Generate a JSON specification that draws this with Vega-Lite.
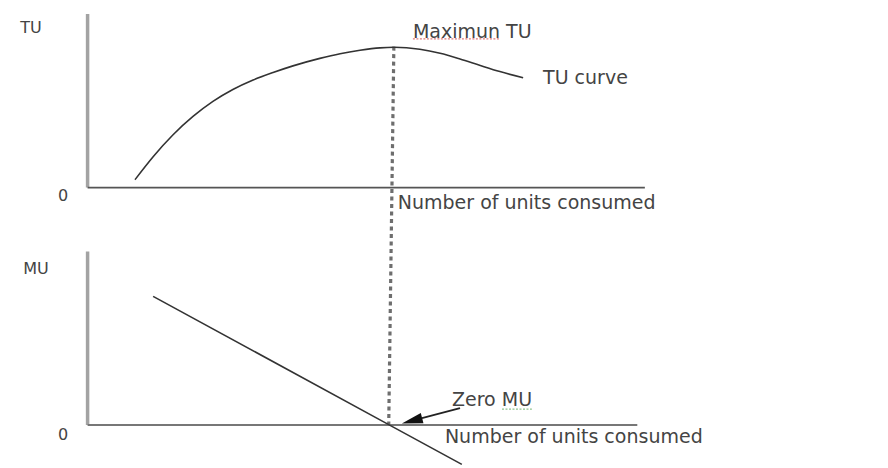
{
  "$schema": "https://vega.github.io/schema/vega-lite/v6.json",
  "width": 888,
  "height": 468,
  "autosize": {"type": "fit", "contains": "padding"},
  "padding": 0,
  "background": "white",
  "config": {"view": {"stroke": null}},
  "datasets": {
    "tu_curve": [
      {"units": 1.57, "tu": 0.56},
      {"units": 2.17, "tu": 2.18},
      {"units": 2.83, "tu": 3.73},
      {"units": 3.49, "tu": 5.02},
      {"units": 4.15, "tu": 6.08},
      {"units": 4.81, "tu": 6.92},
      {"units": 5.48, "tu": 7.59},
      {"units": 6.14, "tu": 8.12},
      {"units": 6.8, "tu": 8.59},
      {"units": 7.69, "tu": 9.12},
      {"units": 8.36, "tu": 9.45},
      {"units": 9.02, "tu": 9.69},
      {"units": 9.68, "tu": 9.86},
      {"units": 10.15, "tu": 9.9},
      {"units": 11.0, "tu": 9.76},
      {"units": 11.67, "tu": 9.48},
      {"units": 12.33, "tu": 9.08},
      {"units": 13.0, "tu": 8.62},
      {"units": 13.65, "tu": 8.19},
      {"units": 14.42, "tu": 7.75}
    ],
    "tu_rules": [
      {"part": "y axis", "units": 0, "units_end": 0, "tu": 0, "tu_end": 12.25},
      {"part": "x axis", "units": 0, "units_end": 18.45, "tu": 0, "tu_end": 0},
      {"part": "max line", "units": 10.14, "units_end": 9.97, "tu": 9.95, "tu_end": -16.76},
      {"part": "spelling", "units": 10.77, "units_end": 13.65, "tu": 10.49, "tu_end": 10.49}
    ],
    "tu_text": [
      {"role": "axis", "label": "TU", "units": -1.874, "tu": 11.27},
      {"role": "axis", "label": "0", "units": -0.815, "tu": -0.56},
      {"role": "note", "label": "Maximun TU", "units": 10.77, "tu": 10.99},
      {"role": "note", "label": "TU curve", "units": 15.08, "tu": 7.75},
      {"role": "note", "label": "Number of units consumed", "units": 10.27, "tu": -1.06}
    ],
    "mu_line": [
      {"units": 2.17, "mu": 10.0},
      {"units": 10.0, "mu": 0.0},
      {"units": 12.39, "mu": -3.05}
    ],
    "mu_rules": [
      {"part": "y axis", "units": 0, "units_end": 0, "mu": 0, "mu_end": 13.49},
      {"part": "x axis", "units": 0, "units_end": 18.2, "mu": 0, "mu_end": 0},
      {"part": "arrow", "units": 12.33, "units_end": 11.07, "mu": 1.32, "mu_end": 0.54},
      {"part": "spelling", "units": 13.72, "units_end": 14.71, "mu": 1.24, "mu_end": 1.24}
    ],
    "mu_arrowhead": [
      {"units": 10.74, "mu": 0.33}
    ],
    "mu_text": [
      {"role": "axis", "label": "MU", "units": -1.71, "mu": 12.09},
      {"role": "axis", "label": "0", "units": -0.815, "mu": -0.78},
      {"role": "note", "label": "Zero MU", "units": 12.065, "mu": 1.94},
      {"role": "note", "label": "Number of units consumed", "units": 11.83, "mu": -0.93}
    ]
  },
  "layer": [
    {
      "layer": [
        {
          "data": {"name": "tu_rules"},
          "transform": [{"filter": "datum.part == 'y axis'"}],
          "mark": {"type": "rule", "color": "#a3a3a3", "strokeWidth": 3.5},
          "encoding": {
            "x": {"field": "units", "type": "quantitative", "scale": {"domain": [-2.9, 26.5], "nice": false, "zero": false}, "axis": null},
            "x2": {"field": "units_end"},
            "y": {"field": "tu", "type": "quantitative", "scale": {"domain": [-19.72, 13.24], "nice": false, "zero": false}, "axis": null},
            "y2": {"field": "tu_end"}
          }
        },
        {
          "data": {"name": "tu_rules"},
          "transform": [{"filter": "datum.part == 'x axis'"}],
          "mark": {"type": "rule", "color": "#555555", "strokeWidth": 1.8},
          "encoding": {
            "x": {"field": "units", "type": "quantitative", "scale": {"domain": [-2.9, 26.5], "nice": false, "zero": false}, "axis": null},
            "x2": {"field": "units_end"},
            "y": {"field": "tu", "type": "quantitative", "scale": {"domain": [-19.72, 13.24], "nice": false, "zero": false}, "axis": null},
            "y2": {"field": "tu_end"}
          }
        },
        {
          "data": {"name": "tu_rules"},
          "transform": [{"filter": "datum.part == 'max line'"}],
          "mark": {"type": "rule", "color": "#6e6e6e", "strokeWidth": 3.2, "strokeDash": [4, 3.5]},
          "encoding": {
            "x": {"field": "units", "type": "quantitative", "scale": {"domain": [-2.9, 26.5], "nice": false, "zero": false}, "axis": null},
            "x2": {"field": "units_end"},
            "y": {"field": "tu", "type": "quantitative", "scale": {"domain": [-19.72, 13.24], "nice": false, "zero": false}, "axis": null},
            "y2": {"field": "tu_end"}
          }
        },
        {
          "data": {"name": "tu_rules"},
          "transform": [{"filter": "datum.part == 'spelling'"}],
          "mark": {"type": "rule", "color": "#e07a7a", "strokeWidth": 1.3, "strokeDash": [2, 1.5]},
          "encoding": {
            "x": {"field": "units", "type": "quantitative", "scale": {"domain": [-2.9, 26.5], "nice": false, "zero": false}, "axis": null},
            "x2": {"field": "units_end"},
            "y": {"field": "tu", "type": "quantitative", "scale": {"domain": [-19.72, 13.24], "nice": false, "zero": false}, "axis": null},
            "y2": {"field": "tu_end"}
          }
        },
        {
          "data": {"name": "tu_curve"},
          "mark": {"type": "line", "color": "#333333", "strokeWidth": 1.6, "interpolate": "monotone"},
          "encoding": {
            "x": {"field": "units", "type": "quantitative", "scale": {"domain": [-2.9, 26.5], "nice": false, "zero": false}, "axis": null},
            "y": {"field": "tu", "type": "quantitative", "scale": {"domain": [-19.72, 13.24], "nice": false, "zero": false}, "axis": null}
          }
        },
        {
          "data": {"name": "tu_text"},
          "transform": [{"filter": "datum.role == 'axis'"}],
          "mark": {"type": "text", "font": "DejaVu Sans", "fontSize": 16, "color": "#444444", "align": "center", "baseline": "middle"},
          "encoding": {
            "x": {"field": "units", "type": "quantitative", "scale": {"domain": [-2.9, 26.5], "nice": false, "zero": false}, "axis": null},
            "y": {"field": "tu", "type": "quantitative", "scale": {"domain": [-19.72, 13.24], "nice": false, "zero": false}, "axis": null},
            "text": {"field": "label"}
          }
        },
        {
          "data": {"name": "tu_text"},
          "transform": [{"filter": "datum.role == 'note'"}],
          "mark": {"type": "text", "font": "DejaVu Sans", "fontSize": 19, "color": "#444444", "align": "left", "baseline": "middle"},
          "encoding": {
            "x": {"field": "units", "type": "quantitative", "scale": {"domain": [-2.9, 26.5], "nice": false, "zero": false}, "axis": null},
            "y": {"field": "tu", "type": "quantitative", "scale": {"domain": [-19.72, 13.24], "nice": false, "zero": false}, "axis": null},
            "text": {"field": "label"}
          }
        }
      ]
    },
    {
      "layer": [
        {
          "data": {"name": "mu_rules"},
          "transform": [{"filter": "datum.part == 'y axis'"}],
          "mark": {"type": "rule", "color": "#a3a3a3", "strokeWidth": 3.5},
          "encoding": {
            "x": {"field": "units", "type": "quantitative", "scale": {"domain": [-2.9, 26.5], "nice": false, "zero": false}, "axis": null},
            "x2": {"field": "units_end"},
            "y": {"field": "mu", "type": "quantitative", "scale": {"domain": [-3.256, 33.02], "nice": false, "zero": false}, "axis": null},
            "y2": {"field": "mu_end"}
          }
        },
        {
          "data": {"name": "mu_rules"},
          "transform": [{"filter": "datum.part == 'x axis'"}],
          "mark": {"type": "rule", "color": "#777777", "strokeWidth": 2},
          "encoding": {
            "x": {"field": "units", "type": "quantitative", "scale": {"domain": [-2.9, 26.5], "nice": false, "zero": false}, "axis": null},
            "x2": {"field": "units_end"},
            "y": {"field": "mu", "type": "quantitative", "scale": {"domain": [-3.256, 33.02], "nice": false, "zero": false}, "axis": null},
            "y2": {"field": "mu_end"}
          }
        },
        {
          "data": {"name": "mu_rules"},
          "transform": [{"filter": "datum.part == 'arrow'"}],
          "mark": {"type": "rule", "color": "#222222", "strokeWidth": 1.8},
          "encoding": {
            "x": {"field": "units", "type": "quantitative", "scale": {"domain": [-2.9, 26.5], "nice": false, "zero": false}, "axis": null},
            "x2": {"field": "units_end"},
            "y": {"field": "mu", "type": "quantitative", "scale": {"domain": [-3.256, 33.02], "nice": false, "zero": false}, "axis": null},
            "y2": {"field": "mu_end"}
          }
        },
        {
          "data": {"name": "mu_rules"},
          "transform": [{"filter": "datum.part == 'spelling'"}],
          "mark": {"type": "rule", "color": "#8fc48f", "strokeWidth": 1.3, "strokeDash": [2, 1.5]},
          "encoding": {
            "x": {"field": "units", "type": "quantitative", "scale": {"domain": [-2.9, 26.5], "nice": false, "zero": false}, "axis": null},
            "x2": {"field": "units_end"},
            "y": {"field": "mu", "type": "quantitative", "scale": {"domain": [-3.256, 33.02], "nice": false, "zero": false}, "axis": null},
            "y2": {"field": "mu_end"}
          }
        },
        {
          "data": {"name": "mu_line"},
          "mark": {"type": "line", "color": "#333333", "strokeWidth": 1.6},
          "encoding": {
            "x": {"field": "units", "type": "quantitative", "scale": {"domain": [-2.9, 26.5], "nice": false, "zero": false}, "axis": null},
            "y": {"field": "mu", "type": "quantitative", "scale": {"domain": [-3.256, 33.02], "nice": false, "zero": false}, "axis": null}
          }
        },
        {
          "data": {"name": "mu_arrowhead"},
          "mark": {"type": "point", "shape": "M -1 0 L 1 -0.5 L 1 0.5 Z", "filled": true, "color": "#111111", "opacity": 1, "size": 440, "angle": 345.4, "strokeWidth": 0},
          "encoding": {
            "x": {"field": "units", "type": "quantitative", "scale": {"domain": [-2.9, 26.5], "nice": false, "zero": false}, "axis": null},
            "y": {"field": "mu", "type": "quantitative", "scale": {"domain": [-3.256, 33.02], "nice": false, "zero": false}, "axis": null}
          }
        },
        {
          "data": {"name": "mu_text"},
          "transform": [{"filter": "datum.role == 'axis'"}],
          "mark": {"type": "text", "font": "DejaVu Sans", "fontSize": 16, "color": "#444444", "align": "center", "baseline": "middle"},
          "encoding": {
            "x": {"field": "units", "type": "quantitative", "scale": {"domain": [-2.9, 26.5], "nice": false, "zero": false}, "axis": null},
            "y": {"field": "mu", "type": "quantitative", "scale": {"domain": [-3.256, 33.02], "nice": false, "zero": false}, "axis": null},
            "text": {"field": "label"}
          }
        },
        {
          "data": {"name": "mu_text"},
          "transform": [{"filter": "datum.role == 'note'"}],
          "mark": {"type": "text", "font": "DejaVu Sans", "fontSize": 19, "color": "#444444", "align": "left", "baseline": "middle"},
          "encoding": {
            "x": {"field": "units", "type": "quantitative", "scale": {"domain": [-2.9, 26.5], "nice": false, "zero": false}, "axis": null},
            "y": {"field": "mu", "type": "quantitative", "scale": {"domain": [-3.256, 33.02], "nice": false, "zero": false}, "axis": null},
            "text": {"field": "label"}
          }
        }
      ]
    }
  ],
  "resolve": {"scale": {"y": "independent"}}
}
